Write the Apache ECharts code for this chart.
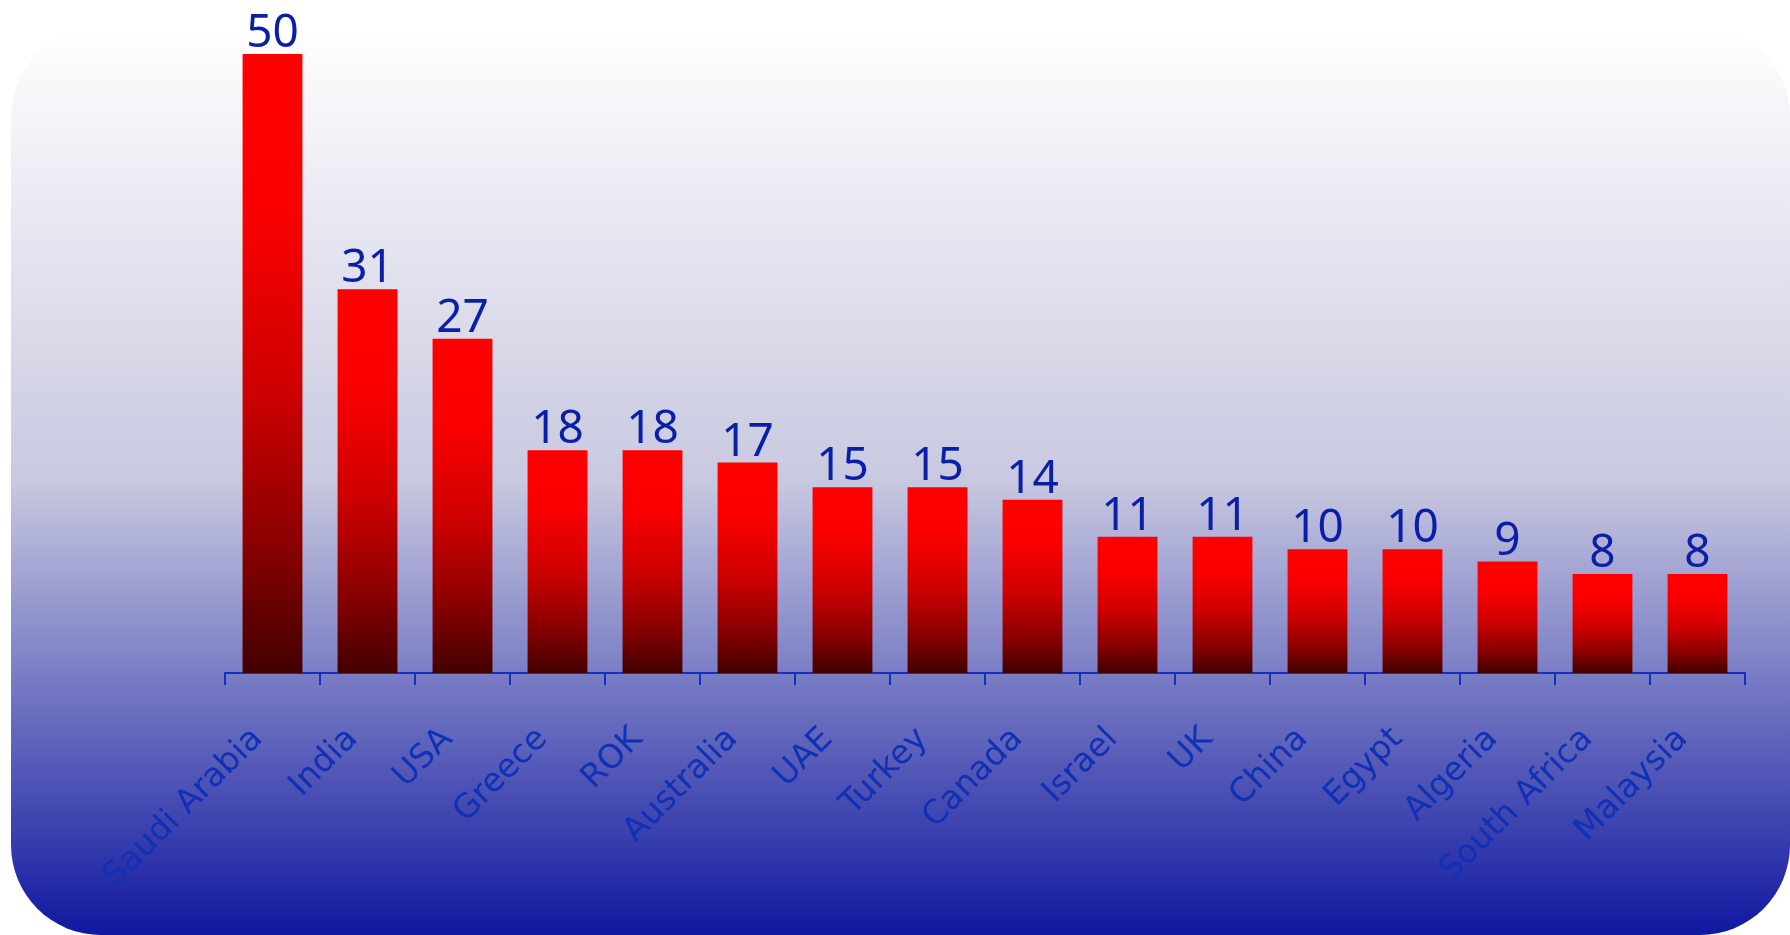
<!DOCTYPE html>
<html>
<head>
<meta charset="utf-8">
<script src="https://cdn.jsdelivr.net/npm/echarts@6/dist/echarts.min.js"></script>
<style>
html,body{margin:0;padding:0;background:#ffffff;}
#chart{width:1790px;height:935px;}
</style>
</head>
<body>
<div id="chart"></div>
<script>
const categories = ["Saudi Arabia","India","USA","Greece","ROK","Australia","UAE","Turkey","Canada","Israel","UK","China","Egypt","Algeria","South Africa","Malaysia"];
const values = [50,31,27,18,18,17,15,15,14,11,11,10,10,9,8,8];

const chart = echarts.init(document.getElementById('chart'));
const option = {
  animation: false,
  backgroundColor: '#ffffff',
  graphic: [{
    type: 'rect',
    z: -10,
    silent: true,
    shape: { x: 11, y: 27, width: 1779, height: 908, r: 90 },
    style: {
      fill: new echarts.graphic.LinearGradient(0, 0, 0, 1, [
        { offset: 0, color: '#ffffff' },
        { offset: 0.5, color: '#c8c8e0' },
        { offset: 1, color: '#1018a0' }
      ])
    }
  }],
  grid: { left: 225, right: 45, top: 54, bottom: 262, containLabel: false, outerBoundsMode: 'none' },
  xAxis: {
    type: 'category',
    data: categories,
    axisLine: { show: true, lineStyle: { color: '#1530c0', width: 2 } },
    axisTick: { show: true, length: 12, lineStyle: { color: '#1530c0', width: 2 } },
    axisLabel: {
      interval: 0,
      rotate: 45,
      margin: 46,
      padding: [0, 21, 0, 0],
      fontSize: 33,
      fontFamily: 'DejaVu Sans',
      color: '#1030b5'
    },
    splitLine: { show: false }
  },
  yAxis: {
    type: 'value',
    min: 0,
    max: 50,
    show: false,
    splitLine: { show: false }
  },
  series: [{
    type: 'bar',
    data: values,
    barCategoryGap: '37%',
    itemStyle: {
      color: new echarts.graphic.LinearGradient(0, 0, 0, 1, [
        { offset: 0, color: '#ff0000' },
        { offset: 0.25, color: '#fb0000' },
        { offset: 0.55, color: '#cc0000' },
        { offset: 0.8, color: '#880000' },
        { offset: 1, color: '#420000' }
      ])
    },
    label: {
      show: true,
      position: 'top',
      distance: -3,
      fontSize: 46,
      fontFamily: 'Noto Sans',
      color: '#0a1ea8'
    }
  }]
};
chart.setOption(option);
</script>
</body>
</html>
